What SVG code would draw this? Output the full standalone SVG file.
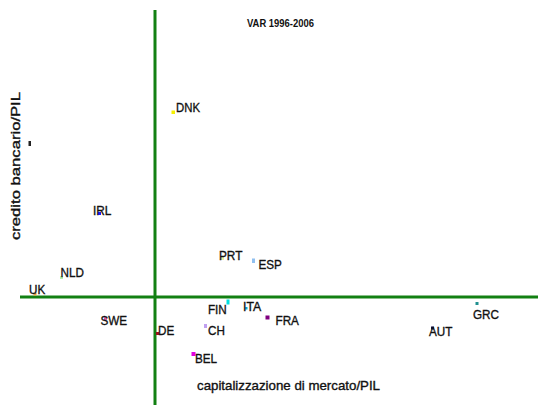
<svg xmlns="http://www.w3.org/2000/svg" width="538" height="405" viewBox="0 0 538 405">
<style>
.ax{stroke:#128012;stroke-width:3;fill:none}
.lb{font-family:"Liberation Sans",Arial,sans-serif;font-size:13px;fill:#111;stroke:#111;stroke-width:0.35}
.tt{font-family:"Liberation Sans",Arial,sans-serif;font-size:11px;font-weight:bold;fill:#111}
.at{font-family:"Liberation Sans",Arial,sans-serif;font-size:13px;fill:#111;stroke:#111;stroke-width:0.35}
</style>
<rect width="538" height="405" fill="#fff"/>
<g id="axes" class="connectors">
<line class="ax" x1="155" y1="10" x2="155" y2="405"/>
<line class="ax" x1="20" y1="297" x2="538" y2="297"/>
</g>
<text class="tt" x="247" y="27" textLength="67" lengthAdjust="spacingAndGlyphs">VAR 1996-2006</text>
<text class="at" x="197" y="390" textLength="183" lengthAdjust="spacingAndGlyphs">capitalizzazione di mercato/PIL</text>
<text class="at" x="20" y="166" text-anchor="middle" font-size="14" transform="rotate(-90 20 166)" textLength="148" lengthAdjust="spacingAndGlyphs">credito bancario/PIL</text>
<rect x="28.5" y="141" width="2.5" height="5" fill="#222"/>
<g id="DNK"><rect x="171.5" y="110.5" width="3.5" height="3.5" fill="#f5f000"/><text class="lb" x="176" y="112" textLength="24" lengthAdjust="spacingAndGlyphs">DNK</text></g>
<g id="IRL"><rect x="98" y="212" width="3" height="3" fill="#1a1aff"/><text class="lb" x="93" y="215" textLength="18.4" lengthAdjust="spacingAndGlyphs">IRL</text></g>
<g id="NLD"><rect x="60" y="276" width="3" height="3" fill="#b8f0b0"/><text class="lb" x="60.5" y="277" textLength="23.4" lengthAdjust="spacingAndGlyphs">NLD</text></g>
<g id="UK"><rect x="33.5" y="293" width="3" height="2.5" fill="#f0a040"/><text class="lb" x="29" y="294" textLength="16.2" lengthAdjust="spacingAndGlyphs">UK</text></g>
<g id="SWE"><rect x="104" y="317" width="3" height="3" fill="#e060a0"/><text class="lb" x="100.5" y="325" textLength="26.7" lengthAdjust="spacingAndGlyphs">SWE</text></g>
<g id="DE"><rect x="156" y="332" width="3" height="3" fill="#a01020"/><text class="lb" x="158" y="335" textLength="16.2" lengthAdjust="spacingAndGlyphs">DE</text></g>
<g id="PRT"><rect x="221" y="257" width="3" height="3" fill="#f0f0a0"/><text class="lb" x="219" y="260" textLength="23.4" lengthAdjust="spacingAndGlyphs">PRT</text></g>
<g id="ESP"><rect x="252" y="258.5" width="3" height="4.5" fill="#90c0f0"/><text class="lb" x="258.5" y="268.5" textLength="23.4" lengthAdjust="spacingAndGlyphs">ESP</text></g>
<g id="FIN"><rect x="226.5" y="299.5" width="3" height="5" fill="#00e0e0"/><text class="lb" x="208" y="314" textLength="18.8" lengthAdjust="spacingAndGlyphs">FIN</text></g>
<g id="ITA"><rect x="245" y="307" width="2.5" height="2.5" fill="#00b0d0"/><text class="lb" x="243" y="311" textLength="18.2" lengthAdjust="spacingAndGlyphs">ITA</text></g>
<g id="FRA"><rect x="265.5" y="315.5" width="4" height="4" fill="#800080"/><text class="lb" x="275.5" y="325" textLength="23.4" lengthAdjust="spacingAndGlyphs">FRA</text></g>
<g id="CH"><rect x="204" y="324" width="3" height="4" fill="#c0a0f0"/><text class="lb" x="208" y="335" textLength="16.9" lengthAdjust="spacingAndGlyphs">CH</text></g>
<g id="BEL"><rect x="191.5" y="352" width="4" height="4" fill="#e000e0"/><text class="lb" x="195" y="362.5" textLength="22.1" lengthAdjust="spacingAndGlyphs">BEL</text></g>
<g id="GRC"><rect x="475.5" y="302" width="3" height="3" fill="#209090"/><text class="lb" x="473" y="318.5" textLength="26" lengthAdjust="spacingAndGlyphs">GRC</text></g>
<g id="AUT"><rect x="431" y="326.5" width="3" height="3" fill="#101060"/><text class="lb" x="429" y="335.5" textLength="23.4" lengthAdjust="spacingAndGlyphs">AUT</text></g>
</svg>
